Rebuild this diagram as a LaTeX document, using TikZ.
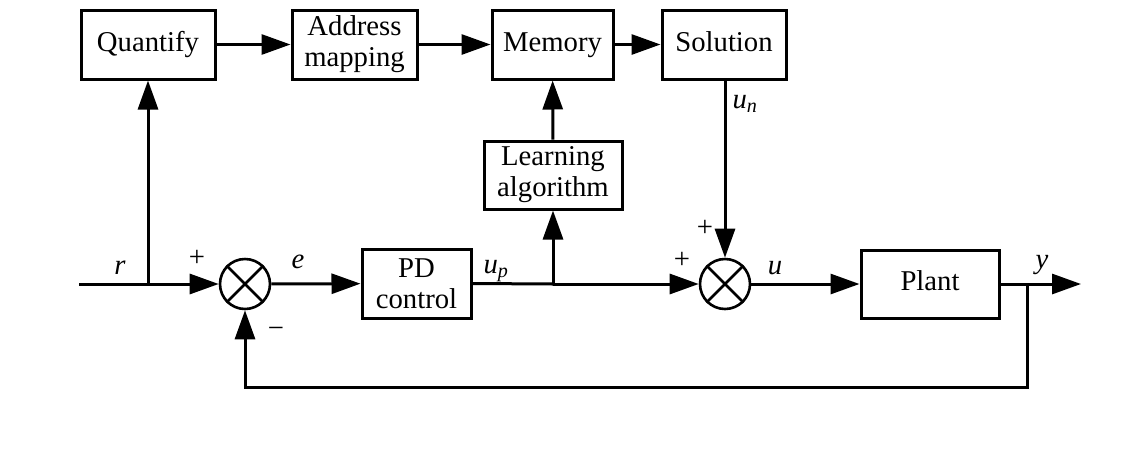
\documentclass[tikz,border=0pt]{standalone}
\usepackage{fontspec}
\setmainfont{Liberation Serif}
\usetikzlibrary{arrows.meta}
\begin{document}
\begin{tikzpicture}[x=1pt,y=-1pt,
  line width=3pt,
  every node/.style={font=\fontsize{28.7}{33}\selectfont},
  blk/.style={draw,rectangle,inner sep=0pt,align=center,line width=3pt},
  sumc/.style={draw,circle,inner sep=0pt,minimum size=50pt,line width=2.6pt},
  lbl/.style={inner sep=0pt},
  arr/.style={-{Triangle[length=29pt,width=20pt]}}]
\useasboundingbox (0,0) rectangle (1143,448);
% blocks
\node[blk,minimum width=134pt,minimum height=69pt] (quant) at (148,44.5) {Quantify\strut};
\node[blk,minimum width=125pt,minimum height=69pt] (addr) at (354.5,44.5) {Address\\[-2pt]mapping};
\node[blk,minimum width=121pt,minimum height=69pt] (mem) at (552.5,44.5) {Memory\strut};
\node[blk,minimum width=124pt,minimum height=69pt] (sol) at (724,44.5) {Solution\strut};
\node[blk,minimum width=138pt,minimum height=68pt] (learn) at (553,175) {Learning\\[-2pt]algorithm};
\node[blk,minimum width=109pt,minimum height=69pt] (pd) at (416.5,283.5) {PD\\[-2pt]control};
\node[blk,minimum width=138pt,minimum height=68pt] (plant) at (930,284) {Plant\strut};
\node[sumc] (s1) at (245,284) {};
\node[sumc] (s2) at (725,284) {};
\draw[line width=2.6pt] (s1.north east) -- (s1.south west) (s1.north west) -- (s1.south east);
\draw[line width=2.6pt] (s2.north east) -- (s2.south west) (s2.north west) -- (s2.south east);
% coordinates
\coordinate (rin) at (79,284);
\coordinate (j1) at (148,284);
\coordinate (j2) at (553,284);
\coordinate (j3) at (1027,284);
\coordinate (yout) at (1081,284);
\coordinate (fb) at (1027,387);
\coordinate (fbl) at (245,387);
% connectors
\draw[arr] (quant) -- (addr);
\draw[arr] (addr) -- (mem);
\draw[arr] (mem) -- (sol);
\draw[arr] (learn) -- (mem);
\draw[arr] (j1) -- (quant);
\draw (rin) -- (j1);
\draw[arr] (j1) -- (s1);
\draw[arr] (s1) -- (pd);
\draw (pd.east) -- (j2);
\draw[arr] (j2) -- (learn);
\draw[arr] (j2) -- (s2);
\draw[arr] (sol.south -| s2.north) -- (s2);
\draw[arr] (s2) -- (plant);
\draw[arr] (plant.east) -- (yout);
\draw[arr] (j3) -- (fb) -- (fbl) -- (s1);
% labels
\node[lbl] (lr) at (120,268) {\textit{r}};
\node[lbl] (lp1) at (197,258) {+};
\node[lbl] (le) at (298,262) {\textit{e}};
\node[lbl] (lm) at (276,332) {−};
\node[lbl] (lup) at (496,271) {\textit{u}\textsubscript{\textit{p}}};
\node[lbl] (lp2) at (682,260) {+};
\node[lbl] (lp3) at (705,228) {+};
\node[lbl] (lu) at (775,268) {\textit{u}};
\node[lbl] (ly) at (1042,265) {\textit{y}};
\node[lbl] (lun) at (745,104) {\textit{u}\textsubscript{\textit{n}}};
\end{tikzpicture}
\end{document}
